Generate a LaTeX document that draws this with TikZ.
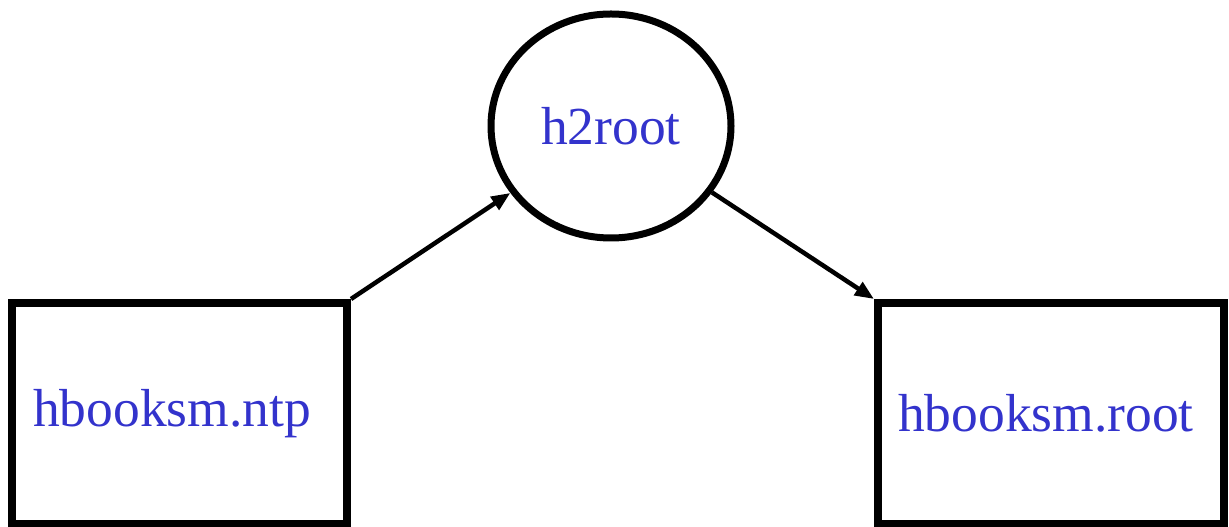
\documentclass[tikz,border=0pt]{standalone}
\usepackage{fontspec}
\setmainfont{Liberation Serif}
\usetikzlibrary{arrows.meta,shapes.geometric}
\definecolor{fileC}{HTML}{3333CC}
\tikzset{
  >={Triangle[length=19pt,width=15pt]},
  fileBox/.style={draw=black,line width=8pt,rectangle,minimum height=221pt,
    text=fileC,font=\fontsize{53.5}{60}\selectfont,inner sep=0pt,align=left},
  toolCircle/.style={draw=black,line width=7pt,ellipse,minimum width=240pt,
    minimum height=224pt,text=fileC,font=\fontsize{53.5}{60}\selectfont,inner sep=0pt},
  flowArrow/.style={->,line width=4.5pt},
}
\begin{document}
\begin{tikzpicture}[x=1pt,y=1pt]
\useasboundingbox (0,0) rectangle (1229,527);
\node[fileBox,minimum width=335pt,text width=293pt] (ntp) at (179.5,113.5) {hbooksm.ntp};
\node[toolCircle] (h2root) at (611,401) {h2root};
\node[fileBox,minimum width=346pt,text width=306pt] (root) at (1051,113.5) {hbooksm.root};
\draw[flowArrow] (ntp.north east) -- (h2root);
\draw[flowArrow] (h2root) -- (root.north west);
\end{tikzpicture}
\end{document}
